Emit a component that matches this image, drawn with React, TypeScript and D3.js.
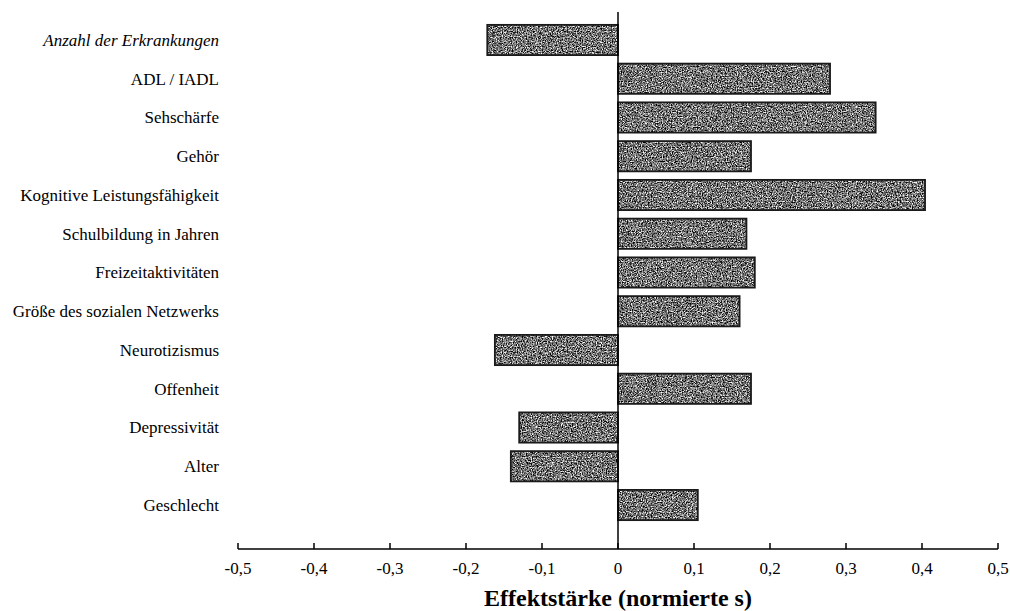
import React from "react";
import * as d3 from "d3";

const categories = [
  "Anzahl der Erkrankungen",
  "ADL / IADL",
  "Sehschärfe",
  "Gehör",
  "Kognitive Leistungsfähigkeit",
  "Schulbildung in Jahren",
  "Freizeitaktivitäten",
  "Größe des sozialen Netzwerks",
  "Neurotizismus",
  "Offenheit",
  "Depressivität",
  "Alter",
  "Geschlecht",
];
const values = [-0.172, 0.279, 0.339, 0.175, 0.404, 0.169, 0.18, 0.16, -0.162, 0.175, -0.13, -0.141, 0.105];
const ticks = [-0.5, -0.4, -0.3, -0.2, -0.1, 0, 0.1, 0.2, 0.3, 0.4, 0.5];
const xTitle = "Effektstärke (normierte s)";

export default function App() {
  const W = 1010, H = 611;
  const x = d3.scaleLinear().domain([-0.5, 0.5]).range([238, 998]);
  const y = d3.scaleBand<string>().domain(categories).range([20.6, 524.4]).paddingInner(0.22).paddingOuter(0.11);
  const axisY = 549;
  const fmt = (v: number) => (v === 0 ? "0" : d3.format(".1f")(v).replace(".", ",").replace("−", "-"));
  const font = "Liberation Serif, Times New Roman, DejaVu Serif, serif";
  return (
    <svg width={W} height={H} style={{ position: "absolute", left: 0, top: 0, background: "#fff" }}>
      <defs>
        <filter id="grain" x="0" y="0" width="100%" height="100%" filterUnits="objectBoundingBox"
          colorInterpolationFilters="sRGB">
          <feTurbulence type="fractalNoise" baseFrequency="0.8" numOctaves="3" seed="5" result="n" />
          <feColorMatrix type="matrix" in="n" result="g"
            values="2.0 0 0 0 -0.55  2.0 0 0 0 -0.55  2.0 0 0 0 -0.55  0 0 0 0 1" />
          <feComposite in="g" in2="SourceGraphic" operator="in" />
        </filter>
      </defs>
      {categories.map((c, i) => {
        const v = values[i];
        const x0 = x(Math.min(0, v));
        const x1 = x(Math.max(0, v));
        return (
          <g key={c}>
            <rect x={x0} y={y(c)!} width={x1 - x0} height={y.bandwidth()} fill="#777" filter="url(#grain)" />
            <rect x={x0} y={y(c)!} width={x1 - x0} height={y.bandwidth()} fill="none" stroke="#1a1a1a" strokeWidth={1.8} />
          </g>
        );
      })}
      <line x1={x(0)} x2={x(0)} y1={12} y2={axisY} stroke="#000" strokeWidth={1.5} />
      {categories.map((c) => (
        <text key={c} x={219} y={y(c)! + y.bandwidth() / 2} dy="0.35em" textAnchor="end"
          style={{ fontFamily: font, fontSize: 17, fontStyle: c === "Anzahl der Erkrankungen" ? "italic" : "normal" }} fill="#000">
          {c}
        </text>
      ))}
      <line x1={x(-0.5)} x2={x(0.5)} y1={axisY} y2={axisY} stroke="#000" strokeWidth={1.5} />
      {ticks.map((t) => (
        <g key={t}>
          <line x1={x(t)} x2={x(t)} y1={axisY} y2={axisY - 6} stroke="#000" strokeWidth={1.5} />
          <text x={x(t)} y={axisY + 25} textAnchor="middle" style={{ fontFamily: font, fontSize: 17 }} fill="#000">
            {fmt(t)}
          </text>
        </g>
      ))}
      <text x={x(0)} y={606} textAnchor="middle" style={{ fontFamily: font, fontSize: 24, fontWeight: "bold" }} fill="#000">
        {xTitle}
      </text>
    </svg>
  );
}
